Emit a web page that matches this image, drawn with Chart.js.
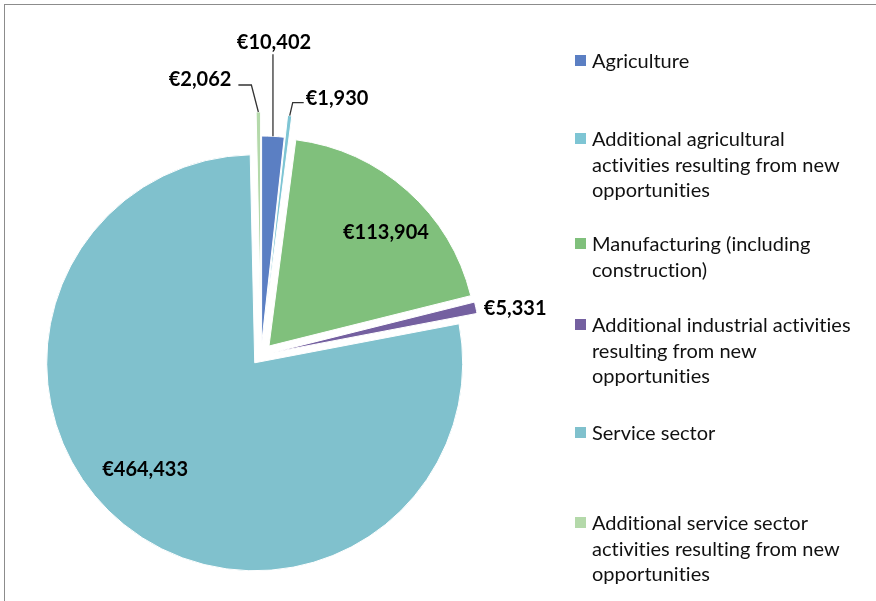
<!DOCTYPE html>
<html>
<head>
<meta charset="utf-8">
<script src="https://cdn.jsdelivr.net/npm/chart.js@4.4.1/dist/chart.umd.min.js"></script>
<style>
  html, body { margin: 0; padding: 0; background: #fff; }
  #wrap { position: relative; width: 876px; height: 601px; overflow: hidden; }
  #frame { position: absolute; left: 4px; top: 4px; width: 900px; height: 700px;
           border-top: 1px solid #8c8c8c; border-left: 1px solid #8c8c8c; }
  #chartBox { position: absolute; left: 0; top: 0; width: 876px; height: 601px; }
  #legend { position: absolute; left: 0; top: 0; font-family: Lato, sans-serif; font-size: 20px; color: #111;
            font-variant-ligatures: none; font-feature-settings: "liga" 0, "clig" 0; }
  .item { position: absolute; left: 575px; white-space: nowrap; line-height: 25.7px; }
  .item .sw { position: absolute; left: 0; top: 7px; width: 11px; height: 11px; }
  .item .txt { position: absolute; left: 17px; top: 0; }
</style>
</head>
<body>
<div id="wrap">
  <div id="frame"></div>
  <div id="chartBox"><canvas id="pie"></canvas></div>
  <div id="legend"></div>
</div>
<script>
// categories (legend lines), values and colours
const categories = [
  ['Agriculture'],
  ['Additional agricultural', 'activities resulting from new', 'opportunities'],
  ['Manufacturing (including', 'construction)'],
  ['Additional industrial activities', 'resulting from new', 'opportunities'],
  ['Service sector'],
  ['Additional service sector', 'activities resulting from new', 'opportunities']
];
const values = [10402, 1930, 113904, 5331, 464433, 2062];
const colors = ['#5b7fc3', '#7ec5d4', '#80c07c', '#7460a0', '#80c1cd', '#b4d9aa'];

// how far each slice is pulled out of the pie, px
const explode = [11, 33, 12, 12, 10, 35];
// legend item tops (first line centre - 13)
const legendTops = [48, 126, 231, 312, 420, 510];

const fmt = v => '\u20ac' + v.toLocaleString('en-US');

// draw slices pulled out along their middle angle
const explodePlugin = {
  id: 'explode',
  beforeDatasetDraw(chart, args) {
    const ctx = chart.ctx;
    args.meta.data.forEach((arc, i) => {
      const mid = (arc.startAngle + arc.endAngle) / 2;
      ctx.save();
      ctx.translate(Math.cos(mid) * explode[i], Math.sin(mid) * explode[i]);
      arc.draw(ctx);
      ctx.restore();
    });
    return false;
  }
};

// value labels, some with leader lines
const labelPlugin = {
  id: 'valueLabels',
  afterDatasetsDraw(chart) {
    const ctx = chart.ctx;
    const arcs = chart.getDatasetMeta(0).data;
    ctx.save();
    ctx.font = 'bold 20px Lato, sans-serif';
    ctx.fillStyle = '#000';
    ctx.strokeStyle = '#333';
    ctx.lineWidth = 1.3;
    ctx.textBaseline = 'middle';
    arcs.forEach((arc, i) => {
      const mid = (arc.startAngle + arc.endAngle) / 2;
      const cx = arc.x + Math.cos(mid) * explode[i];
      const cy = arc.y + Math.sin(mid) * explode[i];
      const R = arc.outerRadius;
      const px = cx + Math.cos(mid) * R;
      const py = cy + Math.sin(mid) * R;
      const text = fmt(values[i]);
      if (i === 0) {
        ctx.beginPath(); ctx.moveTo(px, py); ctx.lineTo(px, py - 82); ctx.stroke();
        ctx.textAlign = 'center';
        ctx.fillText(text, px + 1, py - 94);
      } else if (i === 1) {
        ctx.beginPath(); ctx.moveTo(px, py); ctx.lineTo(px + 3, py - 13); ctx.lineTo(px + 14, py - 13); ctx.stroke();
        ctx.textAlign = 'left';
        ctx.fillText(text, px + 16, py - 17);
      } else if (i === 3) {
        ctx.textAlign = 'left';
        ctx.fillText(text, px + 8, py + 1);
      } else if (i === 5) {
        ctx.beginPath(); ctx.moveTo(px, py); ctx.lineTo(px - 7, py - 27); ctx.lineTo(px - 20, py - 27); ctx.stroke();
        ctx.textAlign = 'right';
        ctx.fillText(text, px - 27, py - 32);
      } else if (i === 2) {
        ctx.textAlign = 'center';
        ctx.fillText(text, cx + Math.cos(mid) * R * 0.78 + 9, cy + Math.sin(mid) * R * 0.78 + 8);
      } else {
        ctx.textAlign = 'center';
        ctx.fillText(text, cx + Math.cos(mid) * R * 0.7 - 18, cy + Math.sin(mid) * R * 0.7 - 6);
      }
    });
    ctx.restore();
  }
};

new Chart(document.getElementById('pie'), {
  type: 'pie',
  data: {
    labels: categories.map(c => c.join(' ')),
    datasets: [{
      data: values,
      backgroundColor: colors,
      borderColor: '#fff',
      borderWidth: 1,
      hoverOffset: 0,
      offset: 0
    }]
  },
  options: {
    responsive: true,
    maintainAspectRatio: false,
    animation: false,
    radius: 208,
    layout: { padding: { left: 0, right: 354, top: 109, bottom: 0 } },
    plugins: {
      legend: { display: false },
      tooltip: { enabled: false }
    }
  },
  plugins: [explodePlugin, labelPlugin]
});

// legend on the right
const legendDiv = document.getElementById('legend');
categories.forEach((lines, i) => {
  legendDiv.innerHTML += `<div class="item" style="top:${legendTops[i]}px">` +
    `<div class="sw" style="background:${colors[i]}"></div>` +
    `<div class="txt">${lines.join('<br>')}</div></div>`;
});
</script>
</body>
</html>
